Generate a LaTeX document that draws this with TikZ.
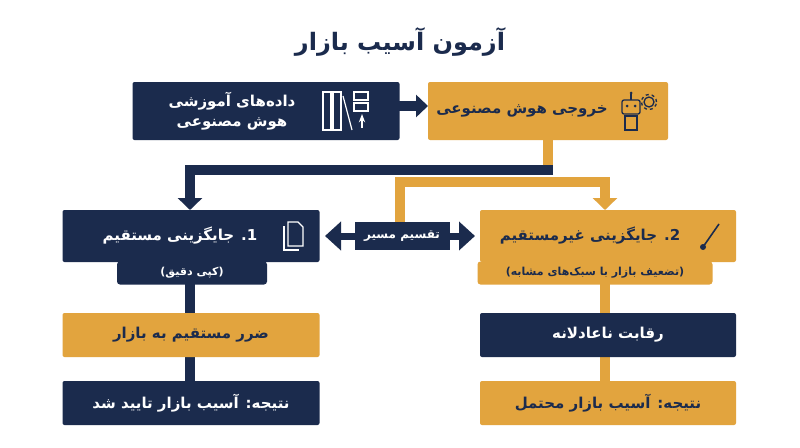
\documentclass[tikz,border=0pt]{standalone}
\usepackage{fontspec}
\newfontfamily\ar[Script=Arabic]{DejaVu Sans}
\usetikzlibrary{arrows.meta}
\TeXXeTstate=1
\newcommand{\rtl}[1]{\beginR #1\endR}
\definecolor{navy}{HTML}{1B2B4D}
\definecolor{gold}{HTML}{E2A43E}
\begin{document}
\begin{tikzpicture}[x=1pt,y=-1pt,
  box/.style={draw=none,rounded corners=2pt,minimum height=44pt,font=\ar\bfseries\fontsize{15}{20}\selectfont,text=white,align=center,inner sep=0pt},
  nb/.style={box,fill=navy},
  gb/.style={box,fill=gold,text=navy},
  lbl/.style={font=\ar\bfseries\fontsize{15}{20}\selectfont,align=center,inner sep=0pt},
  sub/.style={draw=none,rounded corners=3pt,minimum height=23pt,font=\ar\bfseries\fontsize{11}{13}\selectfont,inner sep=0pt},
  lnav/.style={navy,line width=10pt},
  lgold/.style={gold,line width=10pt},
  tip/.style={-{Triangle[length=12pt,width=24pt]}}]
\useasboundingbox (0,0) rectangle (800,447);
\fill[white] (0,0) rectangle (800,447);
\node[font=\ar\bfseries\fontsize{24}{28}\selectfont,text=navy] (title) at (400,42) {\rtl{آزمون آسیب بازار}};
% connectors
\draw[lgold] (548,140) -- (548,173);
\draw[lnav,tip] (553,170) -- (190,170) -- (190,210);
\draw[lgold,tip] (400,232) -- (400,182) -- (605,182) -- (605,210);
\draw[lnav,-{Triangle[length=12pt,width=22pt]}] (395,106) -- (428,106);
\draw[navy,line width=10pt] (190,262) -- (190,313);
\draw[navy,line width=10pt] (190,357) -- (190,381);
\draw[gold,line width=10pt] (605,262) -- (605,313);
\draw[gold,line width=10pt] (605,357) -- (605,381);
% boxes
\node[nb,minimum width=267pt,minimum height=58pt] (data) at (266,111) {};
\node[lbl,text=white] (datat) at (232,111) {\rtl{داده‌های آموزشی}\\\rtl{هوش مصنوعی}};
\node[gb,minimum width=240pt,minimum height=58pt] (out) at (548,111) {};
\node[lbl,text=navy] (outt) at (522,111) {\rtl{خروجی هوش مصنوعی}};
\node[nb,minimum width=257pt,minimum height=52pt] (l1) at (191,236) {};
\node[lbl,text=white] (l1t) at (180,236) {\rtl{1. جایگزینی مستقیم}};
\node[sub,fill=navy,text=white,minimum width=150pt] (l1s) at (192,273) {\rtl{(کپی دقیق)}};
\node[gb,minimum width=257pt] (l2) at (191,335) {\rtl{ضرر مستقیم به بازار}};
\node[nb,minimum width=257pt] (l3) at (191,403) {\rtl{نتیجه: آسیب بازار تایید شد}};
\node[gb,minimum width=256pt,minimum height=52pt] (r1) at (608,236) {};
\node[lbl,text=navy] (r1t) at (590,236) {\rtl{2. جایگزینی غیرمستقیم}};
\node[sub,fill=gold,text=navy,minimum width=235pt] (r1s) at (595,273) {\rtl{(تضعیف بازار با سبک‌های مشابه)}};
\node[nb,minimum width=256pt] (r2) at (608,335) {\rtl{رقابت ناعادلانه}};
\node[gb,minimum width=256pt] (r3) at (608,403) {\rtl{نتیجه: آسیب بازار محتمل}};
% split
\coordinate (sl) at (325,236); \coordinate (sr) at (475,236);
\draw[navy,line width=7pt,{Triangle[length=16pt,width=28pt]}-{Triangle[length=16pt,width=28pt]}] (sl) -- (sr);
\node[fill=navy,text=white,font=\ar\bfseries\fontsize{12}{14}\selectfont,minimum width=95pt,minimum height=28pt,inner sep=0pt] (split) at (402,236) {\rtl{تقسیم مسیر}};
% icons
\begin{scope}[white,line width=1.2pt]
\draw (323,92) rectangle (331,130); \draw (333,92) rectangle (341,130); \draw (343,96) -- (352,130);
\draw (354,92) rectangle (368,100); \draw (354,103) rectangle (368,111); \draw[-{Stealth}] (362,128) -- (362,114);
\end{scope}
\begin{scope}[navy,line width=1.3pt]
\draw[rounded corners=2pt] (622,100) rectangle (640,114); \fill (627,106) circle (1.5pt); \fill (635,106) circle (1.5pt);
\draw (631,100) -- (631,94); \fill (631,93) circle (1.5pt);
\draw (625,116) rectangle (637,130);
\draw (649,102) circle (5pt); \draw[dashed] (649,102) circle (7.5pt);
\end{scope}
\begin{scope}[white,line width=1.2pt]
\draw (288,222) -- (298,222) -- (303,227) -- (303,246) -- (288,246) -- cycle;
\draw (284,226) -- (284,250) -- (299,250);
\end{scope}
\begin{scope}[navy,line width=1.6pt]
\draw (703,247) -- (719,224);
\fill (703,247) circle (3pt);
\end{scope}
\end{tikzpicture}
\end{document}
